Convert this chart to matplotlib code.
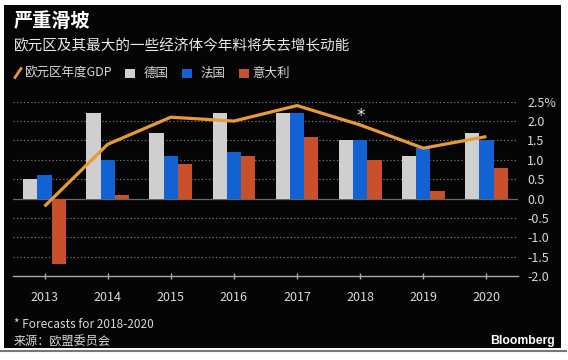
import matplotlib
matplotlib.use("Agg")
import matplotlib.pyplot as plt
from matplotlib.patches import Rectangle
from matplotlib.lines import Line2D
import numpy as np

plt.rcParams['font.family'] = ['Noto Sans CJK SC', 'DejaVu Sans']

years = ['2013', '2014', '2015', '2016', '2017', '2018', '2019', '2020']
eurozone = [-0.2, 1.4, 2.1, 2.0, 2.4, 1.9, 1.3, 1.6]
germany = [0.5, 2.2, 1.7, 2.2, 2.2, 1.5, 1.1, 1.7]
france = [0.6, 1.0, 1.1, 1.2, 2.2, 1.5, 1.3, 1.5]
italy = [-1.7, 0.1, 0.9, 1.1, 1.6, 1.0, 0.2, 0.8]
yticks = [-2.0, -1.5, -1.0, -0.5, 0.0, 0.5, 1.0, 1.5, 2.0, 2.5]
ytick_labels = ['-2.0', '-1.5', '-1.0', '-0.5', '0.0', '0.5', '1.0', '1.5', '2.0', '2.5%']

title = '严重滑坡'
subtitle = '欧元区及其最大的一些经济体今年料将失去增长动能'
legend_labels = ['欧元区年度GDP', '德国', '法国', '意大利']
note = '* Forecasts for 2018-2020'
source = '来源：欧盟委员会'

C_GRAY = '#cfcfcf'
C_BLUE = '#1262d3'
C_RED = '#c8502a'
C_LINE = '#e89a35'
C_TEXT = '#d8d8d8'

W, H = 568, 360
fig = plt.figure(figsize=(W / 100, H / 100), dpi=100)
fig.patch.set_facecolor('white')

def fx(x):
    return x / W

def fy(y):
    return 1 - y / H

# black panel and bottom rule
fig.add_artist(Rectangle((fx(4), fy(348)), fx(561) - fx(4), fy(5) - fy(348),
                         transform=fig.transFigure, facecolor='#050505', edgecolor='none', zorder=0))
fig.add_artist(Line2D([0, fx(566)], [fy(351), fy(351)], transform=fig.transFigure,
                      color='#777777', lw=1.5, zorder=0))

# axes
left, right, top, bottom = 13, 518, 101.7, 276
ax = fig.add_axes([fx(left), fy(bottom), fx(right) - fx(left), fy(top) - fy(bottom)])
ax.set_facecolor('none')
x = np.arange(len(years))
w = 0.226
ax.bar(x - w, germany, w, color=C_GRAY, zorder=3)
ax.bar(x, france, w, color=C_BLUE, zorder=3)
ax.bar(x + w, italy, w, color=C_RED, zorder=3)
ax.plot(x, eurozone, color=C_LINE, lw=2.3, zorder=4, solid_capstyle='butt')
ax.text(5, 2.13, '*', color='#e8e8e8', ha='center', va='center', fontsize=12,
        family='DejaVu Sans', zorder=5)

ax.set_xlim(-0.5, 7.5)
ax.set_ylim(-2.0, 2.5)
for v in yticks:
    if v == -2.0:
        continue
    if v == 0.0:
        ax.axhline(v, color='#666666', lw=0.9, zorder=1)
    else:
        ax.axhline(v, color='#8a8a8a', lw=0.8, ls=(0, (1, 2.2)), zorder=1)

for s in ['top', 'left', 'right']:
    ax.spines[s].set_visible(False)
ax.spines['bottom'].set_color('#aaaaaa')
ax.spines['bottom'].set_linewidth(1.0)

ax.set_xticks(x)
ax.set_xticklabels(years)
ax.tick_params(axis='x', direction='inout', length=5, width=1.0, color='#aaaaaa',
               labelcolor=C_TEXT, labelsize=9, pad=8)
ax.yaxis.tick_right()
ax.set_yticks(yticks)
ax.set_yticklabels(ytick_labels)
ax.tick_params(axis='y', length=0, labelcolor=C_TEXT, labelsize=9, pad=6.5)
for lab in ax.get_yticklabels():
    lab.set_horizontalalignment('left')

# titles
fig.text(fx(14), fy(21), title, color='white', fontsize=13.8, fontweight='bold',
         ha='left', va='center')
fig.text(fx(14), fy(46), subtitle, color='#e8e8e8', fontsize=10.5, ha='left', va='center')

# legend
ly = 73
fig.add_artist(Line2D([fx(15), fx(21)], [fy(77.5), fy(68.5)], transform=fig.transFigure,
                      color=C_LINE, lw=2))
fig.text(fx(24), fy(ly), legend_labels[0], color=C_TEXT, fontsize=9, ha='left', va='center')
for (sx, tx, col, lab) in [(125, 144, C_GRAY, legend_labels[1]),
                           (182, 200, C_BLUE, legend_labels[2]),
                           (239, 252, C_RED, legend_labels[3])]:
    fig.add_artist(Rectangle((fx(sx), fy(78)), fx(10), 9.5 / H, transform=fig.transFigure,
                             facecolor=col, edgecolor='none'))
    fig.text(fx(tx), fy(ly), lab, color=C_TEXT, fontsize=9, ha='left', va='center')

# footer
fig.text(fx(14), fy(325), note, color=C_TEXT, fontsize=8.5, ha='left', va='center')
fig.text(fx(14), fy(342), source, color=C_TEXT, fontsize=8.7, ha='left', va='center')
fig.text(fx(555), fy(341), 'Bloomberg', color='white', fontsize=8.8, fontweight='bold',
         family=['Liberation Sans', 'DejaVu Sans'], ha='right', va='center')

fig.savefig('out.png', dpi=100, facecolor=fig.get_facecolor())
